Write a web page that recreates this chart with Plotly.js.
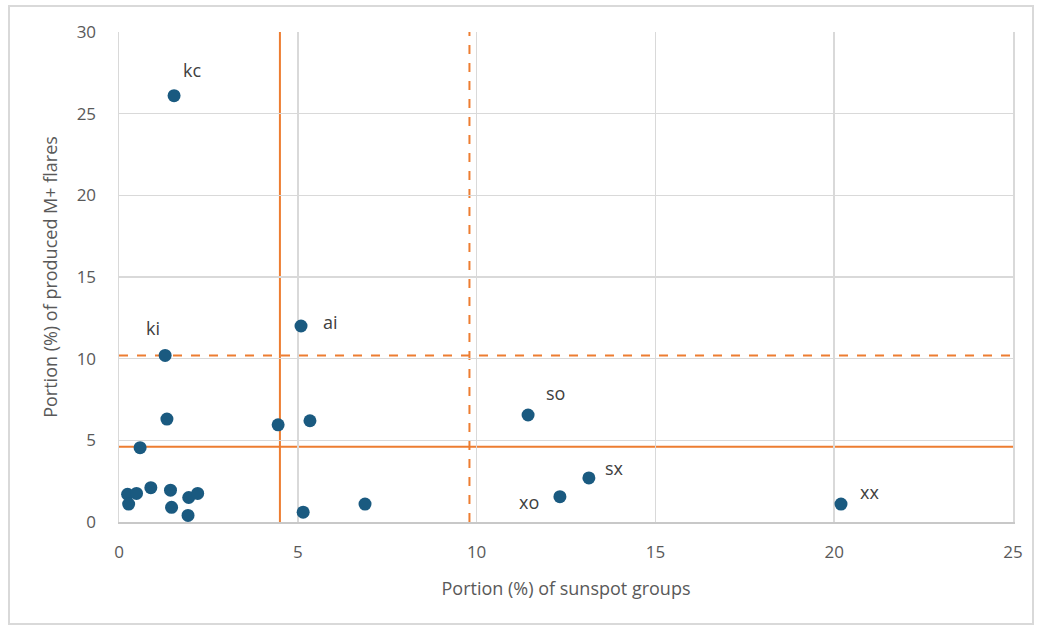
<!DOCTYPE html>
<html>
<head>
<meta charset="utf-8">
<script src="https://cdn.plot.ly/plotly-3.0.1.min.js"></script>
<style>
  html, body { margin: 0; padding: 0; background: #ffffff; }
  #frame { position: absolute; left: 8px; top: 5px; width: 1026px; height: 620px; border: 2px solid #d9d9d9; box-sizing: border-box; pointer-events: none; z-index: 2; }
  #chart { position: absolute; left: 0; top: 0; width: 1043px; height: 631px; }
</style>
</head>
<body>
<div id="chart"></div>
<div id="frame"></div>
<script>
// Portion (%) of sunspot groups (x) and portion (%) of produced M+ flares (y)
const groupPct = [1.54, 1.29, 5.09, 1.34, 4.45, 5.34, 0.59, 11.44, 13.14, 12.33, 20.19, 6.88, 5.15,
                  0.24, 0.49, 0.89, 1.44, 0.27, 1.47, 1.95, 2.20, 1.93];
const flarePct = [26.1, 10.2, 12.0, 6.3, 5.95, 6.2, 4.55, 6.55, 2.7, 1.55, 1.1, 1.1, 0.6,
                  1.7, 1.75, 2.1, 1.95, 1.1, 0.9, 1.5, 1.75, 0.4];
const pointNames = ['kc', 'ki', 'ai', '', '', '', '', 'so', 'sx', 'xo', 'xx', '', '',
                    '', '', '', '', '', '', '', '', ''];

// Reference thresholds
const solidX = 4.5, dashedX = 9.8;
const solidY = 4.6, dashedY = 10.2;

const xTicks = [0, 5, 10, 15, 20, 25];
const yTicks = [0, 5, 10, 15, 20, 25, 30];

// label offsets (px) for named points (style only)
const labelOffset = {
  kc: [18, 26], ki: [-12, 27], ai: [29, 4], so: [27, 22],
  sx: [26, 10], xo: [-31, -5], xx: [29, 12]
};

const orange = '#ED7D31';
const gray = '#595959';

const annotations = [];
pointNames.forEach((n, i) => {
  if (!n) return;
  const off = labelOffset[n];
  annotations.push({
    x: groupPct[i], y: flarePct[i], xref: 'x', yref: 'y', text: n,
    showarrow: false, xshift: off[0], yshift: off[1],
    font: { family: 'Open Sans, sans-serif', size: 18, color: '#404040' }
  });
});

const shapes = [
  { type: 'line', xref: 'x', yref: 'y', x0: solidX, x1: solidX, y0: 0, y1: 30, layer: 'below',
    line: { color: orange, width: 2 } },
  { type: 'line', xref: 'x', yref: 'y', x0: dashedX, x1: dashedX, y0: 0, y1: 30, layer: 'below',
    line: { color: orange, width: 2, dash: 'dash' } },
  { type: 'line', xref: 'x', yref: 'y', x0: 0, x1: 25, y0: solidY, y1: solidY, layer: 'below',
    line: { color: orange, width: 2 } },
  { type: 'line', xref: 'x', yref: 'y', x0: 0, x1: 25, y0: dashedY, y1: dashedY, layer: 'below',
    line: { color: orange, width: 2, dash: 'dash' } }
];

const trace = {
  type: 'scatter', mode: 'markers',
  x: groupPct, y: flarePct,
  marker: { color: '#1A5A80', size: 13, line: { width: 0 } },
  hoverinfo: 'x+y'
};

const layout = {
  width: 1043, height: 631,
  margin: { l: 119, r: 30, t: 32, b: 109 },
  paper_bgcolor: 'rgba(0,0,0,0)', plot_bgcolor: '#ffffff',
  showlegend: false,
  font: { family: 'Open Sans, sans-serif', color: gray },
  xaxis: {
    range: [0, 25], tickvals: xTicks, ticktext: xTicks.map(String),
    showgrid: true, gridcolor: '#d9d9d9', gridwidth: 1.5,
    zeroline: false, showline: true, linecolor: '#c8c8c8', linewidth: 2, mirror: false,
    ticks: '', ticklabelstandoff: 14,
    tickfont: { size: 17, color: gray },
    title: { text: 'Portion (%) of sunspot groups', font: { size: 18, color: gray }, standoff: 20 }
  },
  yaxis: {
    range: [0, 30], tickvals: yTicks, ticktext: yTicks.map(String),
    showgrid: true, gridcolor: '#d9d9d9', gridwidth: 1.5,
    zeroline: false, showline: true, linecolor: '#d9d9d9', linewidth: 1.5, mirror: true,
    ticks: '', ticklabelstandoff: 18,
    tickfont: { size: 17, color: gray },
    title: { text: 'Portion (%) of produced M+ flares', font: { size: 18, color: gray }, standoff: 14 }
  },
  shapes: shapes,
  annotations: annotations
};

Plotly.newPlot('chart', [trace], layout, { displayModeBar: false, staticPlot: true });
</script>
</body>
</html>
